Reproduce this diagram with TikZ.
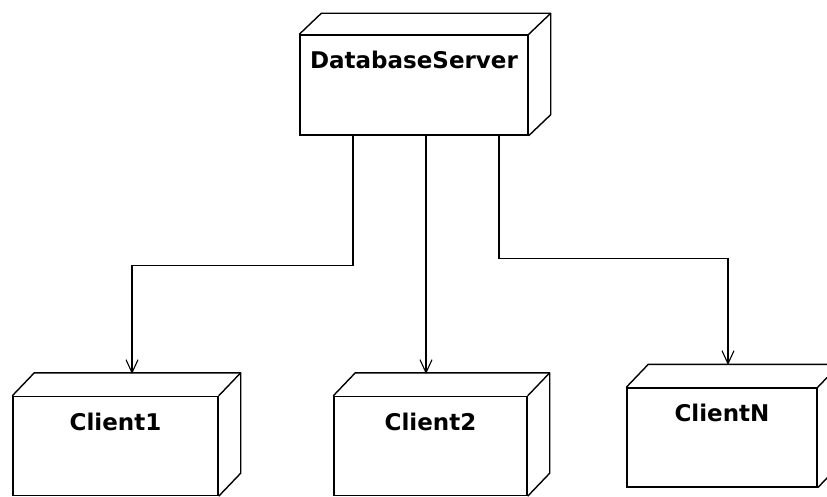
\documentclass[tikz,border=0pt]{standalone}
\usepackage{fontspec}
\setmainfont{DejaVu Sans}
\usetikzlibrary{arrows.meta,calc}
\begin{document}
\begin{tikzpicture}[x=1pt, y=-1pt,
    box/.style={draw, line width=1.4pt, rectangle, minimum height=99pt,
      text height=15pt, text depth=47pt, inner sep=0pt, font=\fontsize{23}{26}\selectfont\bfseries},
    arr/.style={line width=1.1pt, -{Straight Barb[length=13pt, width=12pt, line width=1.1pt]}}]
  \clip (0,0) rectangle (827,497);
  \node[box, minimum width=228pt, minimum height=100pt] (db) at (414,85) {DatabaseServer};
  \node[box, minimum width=205pt] (c1) at (115.5,446) {Client1};
  \node[box, minimum width=193pt] (c2) at (430.5,446) {Client2};
  \node[box, minimum width=190pt] (cN) at (722,437.5) {ClientN};
  % back edges of the boxes
  \foreach \n/\dy in {db/21, c1/23, c2/23, cN/23} {
    \draw[line width=1.4pt, line join=round] (\n.north west) -- ++(22,-\dy)
      -- ($(\n.north east)+(22,-\dy)$) -- ($(\n.south east)+(22,-\dy)$) -- (\n.south east);
    \draw[line width=1.4pt] (\n.north east) -- ++(22,-\dy);
  }
  \coordinate (c1-top) at (132,374);
  \coordinate (c2-top) at (426,374);
  \coordinate (cN-top) at (728,365);
  \draw[arr] ([xshift=-61pt]db.south) -- ++(0,130) -| (c1-top);
  \draw[arr] (db.south -| c2-top) -- (c2-top);
  \draw[arr] ([xshift=85pt]db.south) -- ++(0,123) -| (cN-top);
\end{tikzpicture}
\end{document}
